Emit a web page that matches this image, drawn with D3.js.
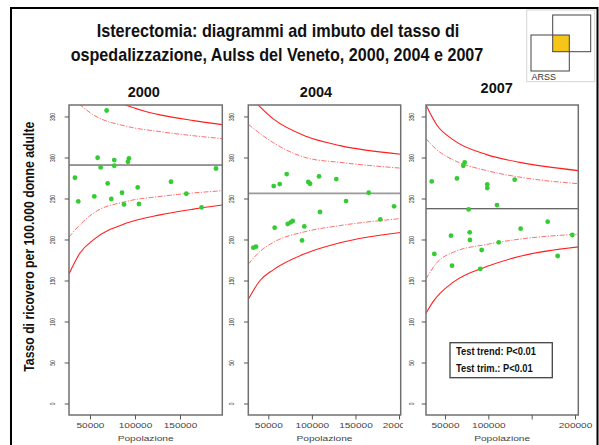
<!DOCTYPE html>
<html>
<head>
<meta charset="utf-8">
<script src="https://cdn.jsdelivr.net/npm/d3@7"></script>
<style>
  body { margin: 0; background: #fff; }
</style>
</head>
<body>
<script>
// values
const years = ["2000", "2004", "2007"];

const pop2000 = [68500, 58500, 77000, 93300, 92200, 61900, 77000, 190000, 33300, 69700,
  140000, 103000, 85600, 157000, 54800, 37000, 73700, 87800, 104400, 174000];
const rate2000 = [357.3, 299.7, 296.9, 298.8, 294.8, 287.9, 289.9, 286.6, 275.3, 268.4,
  270.4, 263.5, 257, 255.8, 252.5, 246.4, 249.4, 242.8, 243.3, 239.1];

const pop2004 = [71100, 108200, 128000, 95900, 97900, 63100, 56200, 165200, 139200, 194300,
  109300, 78000, 75700, 72300, 178500, 91300, 57300, 88700, 35900, 32800];
const rate2004 = [279.8, 276.9, 273.7, 270.1, 268, 267.6, 265.2, 257, 246.9, 240.4,
  233.5, 222.6, 220.9, 218.9, 224.5, 216, 214.4, 198.9, 191.3, 190];

const pop2007 = [72700, 71100, 34700, 63800, 98800, 98800, 130400, 110000, 77300, 168500,
  137300, 56900, 78500, 78800, 196900, 112000, 92300, 37700, 180000, 58100, 90700];
const rate2007 = [294, 289.9, 270.8, 274.5, 267.2, 262.7, 272.9, 242, 236.7, 221.7,
  213.2, 204.7, 208.7, 199.4, 205.5, 196.5, 187.2, 182.4, 179.9, 168.1, 164.1];

// regional rate (horizontal line)
const meanRate = [290.8, 256.2, 237.5];

// funnel limits, [population, rate] pairs
const up99_2000 = [[84400, 366], [109000, 357], [127800, 352], [164800, 345], [197000, 340]];
const up95_2000 = [[38100, 365], [53700, 352], [90800, 338], [127800, 331.5], [197000, 323]];
const lo95_2000 = [[26700, 203], [38900, 218], [53700, 232], [90800, 246.5], [127800, 252.5], [197000, 259.5]];
const lo99_2000 = [[26700, 158], [38900, 183.5], [53700, 199.5], [90800, 220], [127800, 230], [164800, 237], [197000, 242]];

const up99_2004 = [[37400, 365], [55700, 347], [94100, 325.5], [132300, 314.5], [201900, 304]];
const up95_2004 = [[27050, 340.5], [55700, 318], [94100, 299.5], [132300, 294], [201900, 287]];
const lo95_2004 = [[27050, 170], [40500, 185.5], [55700, 196.5], [94100, 210], [132300, 217], [201900, 225.5]];
const lo99_2004 = [[27050, 127], [40500, 150], [55700, 163], [94100, 183.5], [132300, 196], [201900, 208.5]];

const up99_2007 = [[28100, 364], [40400, 340], [59600, 321.5], [98100, 303.5], [136500, 294], [203800, 284]];
const up95_2007 = [[28100, 323], [40400, 309.5], [59600, 297], [98100, 284], [136500, 276], [203800, 268]];
const lo95_2007 = [[28100, 152], [40400, 171.5], [59600, 184.5], [98100, 194], [136500, 200.5], [203800, 206.5]];
const lo99_2007 = [[28100, 110], [36500, 124.5], [59600, 148], [98100, 167], [136500, 179.5], [203800, 191]];

// axes
const xLimits = [[26700, 197000], [27050, 201900], [28100, 203800]];
const yLimits = [-14, 364];
const yTicks = [0, 50, 100, 150, 200, 250, 300, 350];
const xTicks2000 = [50000, 100000, 150000];
const xTicks2004 = [50000, 100000, 150000, 200000];
const xTicks2007 = [50000, 100000, 150000, 200000];
const xLabels2007 = ["50000", "100000", "", "200000"];

const testLines = ["Test trend: P<0.01", "Test trim.: P<0.01"];

// ---------------------------------------------------------------
const narrow = "'Liberation Sans Narrow','Liberation Sans',Arial,sans-serif";
const plain = "'Liberation Sans',Arial,sans-serif";

const svg = d3.select("body").append("svg")
  .attr("width", 599)
  .attr("height", 445);

svg.append("rect")
  .attr("width", 599).attr("height", 445).attr("fill", "white");

// outer frame
svg.append("rect")
  .attr("x", 11).attr("y", 8)
  .attr("width", 586.5).attr("height", 442)
  .attr("fill", "none").attr("stroke", "#000").attr("stroke-width", 2);

// title
svg.append("text")
  .attr("x", 96.7).attr("y", 36.7)
  .attr("font-family", narrow).attr("font-weight", "bold").attr("font-size", 18.6)
  .attr("textLength", 362.6).attr("lengthAdjust", "spacingAndGlyphs")
  .attr("fill", "#111")
  .text("Isterectomia: diagrammi ad imbuto del tasso di");
svg.append("text")
  .attr("x", 70.7).attr("y", 60.7)
  .attr("font-family", narrow).attr("font-weight", "bold").attr("font-size", 18.6)
  .attr("textLength", 412.6).attr("lengthAdjust", "spacingAndGlyphs")
  .attr("fill", "#111")
  .text("ospedalizzazione, Aulss del Veneto, 2000, 2004 e 2007");

// logo
let logo = svg.append("g");
logo.append("rect").attr("x", 526.7).attr("y", 10).attr("width", 68).attr("height", 71.7)
  .attr("fill", "white").attr("stroke", "#d4d4d4");
logo.append("rect").attr("x", 552.7).attr("y", 35).attr("width", 16.6).attr("height", 16.7)
  .attr("fill", "#f5c518");
logo.append("rect").attr("x", 552.7).attr("y", 15).attr("width", 38).attr("height", 36.7)
  .attr("fill", "none").attr("stroke", "#444");
logo.append("rect").attr("x", 531).attr("y", 35).attr("width", 38.3).attr("height", 36)
  .attr("fill", "none").attr("stroke", "#444");
logo.append("text").attr("x", 531.5).attr("y", 80)
  .attr("font-family", plain).attr("font-size", 9).attr("fill", "#333")
  .text("ARSS");

// y axis title
svg.append("text")
  .attr("transform", "translate(34,246.7) rotate(-90)")
  .attr("text-anchor", "middle")
  .attr("font-family", narrow).attr("font-weight", "bold").attr("font-size", 14)
  .attr("textLength", 250).attr("lengthAdjust", "spacingAndGlyphs")
  .attr("fill", "#111")
  .text("Tasso di ricovero per 100.000 donne adulte");

const panels = [
  { pop: pop2000, rate: rate2000, lims: [up99_2000, up95_2000, lo95_2000, lo99_2000],
    ticks: xTicks2000, labels: null },
  { pop: pop2004, rate: rate2004, lims: [up99_2004, up95_2004, lo95_2004, lo99_2004],
    ticks: xTicks2004, labels: null },
  { pop: pop2007, rate: rate2007, lims: [up99_2007, up95_2007, lo95_2007, lo99_2007],
    ticks: xTicks2007, labels: xLabels2007 }
];

const panelLeft = [69, 248.3, 426];
const panelRight = [222.3, 400.7, 578.3];
const plotTop = 105, plotBottom = 415;
const yearX = [143.8, 316, 496.7];
const yearY = [97.3, 97.3, 93.3];
const yLabOff = [14.5, 14.5, 11.8];
const meanColor = ["#333", "#9a9a9a", "#333"];
const meanWidth = [1, 1.8, 1.1];

const y = d3.scaleLinear().domain(yLimits).range([plotBottom, plotTop]);

panels.forEach(function(p, i) {
  let x0 = panelLeft[i], x1 = panelRight[i];
  let x = d3.scaleLinear().domain(xLimits[i]).range([x0, x1]);
  let g = svg.append("g");

  g.append("clipPath").attr("id", "clip" + i)
    .append("rect")
      .attr("x", x0).attr("y", plotTop)
      .attr("width", x1 - x0).attr("height", plotBottom - plotTop);

  let plot = g.append("g").attr("clip-path", "url(#clip" + i + ")");

  // regional rate
  plot.append("line")
    .attr("x1", x0).attr("x2", x1)
    .attr("y1", y(meanRate[i])).attr("y2", y(meanRate[i]))
    .attr("stroke", meanColor[i]).attr("stroke-width", meanWidth[i]);

  // funnel limits
  let line = d3.line()
    .x(d => x(d[0]))
    .y(d => y(d[1]))
    .curve(d3.curveMonotoneX);

  p.lims.forEach(function(lim, k) {
    let solid = (k === 0 || k === 3);
    plot.append("path")
      .attr("d", line(lim))
      .attr("fill", "none")
      .attr("stroke", solid ? "#ff1f1f" : "#ff4a4a")
      .attr("stroke-width", solid ? 1.1 : 1)
      .attr("stroke-opacity", solid ? 1 : 0.8)
      .attr("stroke-dasharray", solid ? null : "5,1.5,1.2,1.5");
  });

  // ULSS points
  plot.selectAll("circle")
    .data(d3.range(p.pop.length))
    .enter()
    .append("circle")
      .attr("cx", j => x(p.pop[j]))
      .attr("cy", j => y(p.rate[j]))
      .attr("r", 2.4)
      .attr("fill", "#33cc33");

  // frame
  g.append("rect")
    .attr("x", x0).attr("y", plotTop)
    .attr("width", x1 - x0).attr("height", plotBottom - plotTop)
    .attr("fill", "none").attr("stroke", "#707070").attr("stroke-width", 1.5);

  // y axis
  let ya = g.append("g")
    .attr("transform", "translate(" + x0 + ",0)")
    .call(d3.axisLeft(y).tickValues(yTicks).tickSize(4.3));
  ya.select(".domain").remove();
  ya.selectAll("line").attr("stroke", "#555");
  ya.selectAll("text")
    .attr("x", null).attr("dy", null)
    .attr("text-anchor", "middle")
    .attr("transform", "translate(" + (-yLabOff[i]) + ",0) rotate(-90)")
    .attr("font-family", plain).attr("font-size", 6.3).attr("fill", "#333")
    .attr("textLength", function(d) { return String(d).length * 2.7; })
    .attr("lengthAdjust", "spacingAndGlyphs");

  // x axis
  let xa = g.append("g")
    .attr("transform", "translate(0," + plotBottom + ")")
    .call(d3.axisBottom(x).tickValues(p.ticks).tickSize(4.5)
      .tickFormat((d, k) => p.labels ? p.labels[k] : String(d)));
  xa.select(".domain").remove();
  xa.selectAll("line").attr("stroke", "#555");
  xa.selectAll("text")
    .attr("y", 12.7).attr("dy", null)
    .attr("font-family", plain).attr("font-size", 7.5).attr("fill", "#444")
    .attr("textLength", function() { return Math.max(1, this.textContent.length * 5.6); })
    .attr("lengthAdjust", "spacingAndGlyphs");
  if (i === 1) {
    // the last label is cut by the panel edge in the original
    g.append("clipPath").attr("id", "xclip1")
      .append("rect").attr("x", 0).attr("y", 0).attr("width", 403).attr("height", 445);
    xa.attr("clip-path", "url(#xclip1)");
  }

  g.append("text")
    .attr("x", (x0 + x1) / 2).attr("y", 441)
    .attr("text-anchor", "middle")
    .attr("font-family", plain).attr("font-size", 8).attr("fill", "#444")
    .attr("textLength", 56).attr("lengthAdjust", "spacingAndGlyphs")
    .text("Popolazione");

  // year
  svg.append("text")
    .attr("x", yearX[i]).attr("y", yearY[i])
    .attr("text-anchor", "middle")
    .attr("font-family", plain).attr("font-weight", "bold").attr("font-size", 14.5)
    .attr("fill", "#111")
    .text(years[i]);
});

// test box inside the 2007 panel
svg.append("rect")
  .attr("x", 450).attr("y", 342.7).attr("width", 102.3).attr("height", 35)
  .attr("fill", "white").attr("stroke", "#444").attr("stroke-width", 1.3);
svg.selectAll(".testline")
  .data(testLines)
  .enter()
  .append("text")
    .attr("class", "testline")
    .attr("x", 456)
    .attr("y", (d, k) => 354.5 + k * 17.5)
    .attr("font-family", narrow).attr("font-weight", "bold").attr("font-size", 11)
    .attr("textLength", (d, k) => k === 0 ? 80 : 76.7)
    .attr("lengthAdjust", "spacingAndGlyphs")
    .attr("fill", "#111")
    .text(d => d);
</script>
</body>
</html>
